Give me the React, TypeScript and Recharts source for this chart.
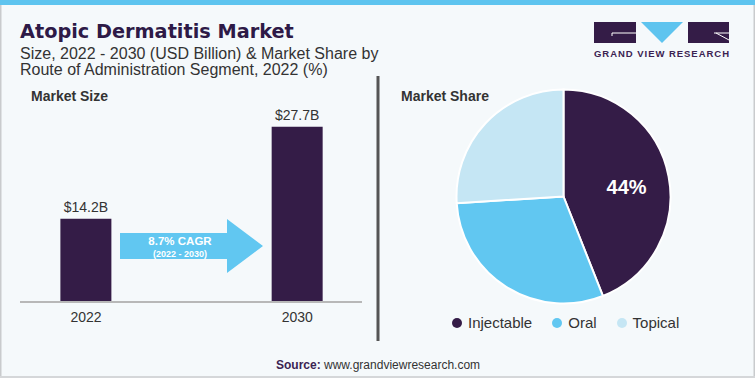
import React from 'react';
import { BarChart, Bar, XAxis, YAxis, LabelList, PieChart, Pie, Cell, Legend } from 'recharts';

const years = [2022, 2030];
const marketSize = [14.2, 27.7];
const segments = ['Injectable', 'Oral', 'Topical'];
const shares = [44, 30, 26];
const segmentColors = ['#341c47', '#61c7f1', '#c5e6f4'];

const barData = years.map((y, i) => ({ year: y, value: marketSize[i] }));
const pieData = segments.map((s, i) => ({ name: s, value: shares[i] }));

const SANS = '"Liberation Sans", Arial, sans-serif';
const PURPLE = '#341c47';

const RADIAN = Math.PI / 180;
const renderPieLabel = (props: any) => {
  const { cx, cy, midAngle, outerRadius, index, value } = props;
  if (index !== 0) return null;
  const r = outerRadius * 0.6;
  const x = cx + r * Math.cos(-midAngle * RADIAN);
  const y = cy + r * Math.sin(-midAngle * RADIAN);
  return (
    <text x={x} y={y + 3} fill="#ffffff" textAnchor="middle" dominantBaseline="central"
      style={{ fontFamily: SANS, fontSize: 20, fontWeight: 700 }}>
      {`${value}%`}
    </text>
  );
};

const renderLegend = (props: any) => {
  const { payload } = props;
  return (
    <div style={{ display: 'flex', alignItems: 'center', fontFamily: SANS, fontSize: 15, color: '#333' }}>
      {payload.map((p: any, i: number) => (
        <div key={i} style={{ display: 'flex', alignItems: 'center', marginRight: 20 }}>
          <span style={{ width: 10, height: 10, borderRadius: 5, background: p.color, display: 'inline-block', marginRight: 6 }} />
          <span>{p.value}</span>
        </div>
      ))}
    </div>
  );
};

export default function App() {
  return (
    <div style={{ position: 'absolute', left: 0, top: 0, width: 755, height: 378, background: '#f5f9fb', overflow: 'hidden' }}>
      <svg width={755} height={378} style={{ position: 'absolute', left: 0, top: 0 }}>
        <rect x={0} y={0} width={755} height={5} fill="#5ec4ef" />
        <rect x={0} y={5} width={1.5} height={373} fill="#c9cbcd" />
        <rect x={753.5} y={5} width={1.5} height={373} fill="#c9cbcd" />
        <rect x={0} y={376} width={755} height={2} fill="#d5d7d9" />
        <text x={20} y={38} fill="#2e1a47" style={{ fontFamily: '"DejaVu Sans", sans-serif', fontSize: 19.3, fontWeight: 700 }}>Atopic Dermatitis Market</text>
        <text x={20} y={59} fill="#333" style={{ fontFamily: SANS, fontSize: 16 }}>Size, 2022 - 2030 (USD Billion) &amp; Market Share by</text>
        <text x={20} y={75} fill="#333" style={{ fontFamily: SANS, fontSize: 16 }}>Route of Administration Segment, 2022 (%)</text>
        <text x={31} y={101} fill="#333" style={{ fontFamily: SANS, fontSize: 14, fontWeight: 700 }}>Market Size</text>
        <text x={401} y={101} fill="#333" style={{ fontFamily: SANS, fontSize: 14, fontWeight: 700 }}>Market Share</text>
        <rect x={376.5} y={76} width={3} height={265} fill="#555" />
        {/* logo */}
        <rect x={594} y={22} width={42} height={21} fill={PURPLE} />
        <path d="M612 36 L612 33 L636 33" stroke="#fff" strokeWidth={1} fill="none" />
        <polygon points="641,22 683,22 662,43" fill="#5ec4ef" />
        <rect x={688} y={22} width={41} height={21} fill={PURPLE} />
        <path d="M714 33 L729 33 M716 33 L729 40" stroke="#fff" strokeWidth={1} fill="none" />
        <text x={594} y={57} fill="#3b2352" textLength={135} lengthAdjust="spacing" style={{ fontFamily: SANS, fontSize: 9.5, fontWeight: 700 }}>GRAND VIEW RESEARCH</text>
        {/* CAGR arrow */}
        <polygon points="120,233 227,233 227,219 263,246 227,273 227,259 120,259" fill="#61c7f1" />
        <text x={180} y={245} fill="#fff" textAnchor="middle" style={{ fontFamily: SANS, fontSize: 11.5, fontWeight: 700 }}>8.7% CAGR</text>
        <text x={180} y={257} fill="#fff" textAnchor="middle" style={{ fontFamily: SANS, fontSize: 9, fontWeight: 700 }}>(2022 - 2030)</text>
        {/* source */}
        <text x={276} y={369} style={{ fontFamily: SANS, fontSize: 12 }}>
          <tspan fill="#3b2352" fontWeight={700}>Source:</tspan>
          <tspan fill="#333"> www.grandviewresearch.com</tspan>
        </text>
      </svg>
      <div style={{ position: 'absolute', left: 0, top: 0 }}>
        <BarChart width={380} height={378} data={barData} margin={{ top: 111, right: 18, left: 20, bottom: 46 }}>
          <XAxis dataKey="year" type="number" domain={[2019.5, 2032.45]} ticks={years} allowDataOverflow
            height={30} tickLine={false} axisLine={{ stroke: '#b8b8b8', strokeWidth: 2 }} tickMargin={4}
            tick={{ fill: '#333', fontSize: 14, fontFamily: SANS }} />
          <YAxis hide domain={[2, 30]} />
          <Bar dataKey="value" fill={PURPLE} barSize={51} isAnimationActive={false}>
            <LabelList dataKey="value" position="top" offset={7} formatter={(v: any) => `$${v}B`}
              style={{ fill: '#333', fontSize: 14, fontFamily: SANS }} />
          </Bar>
        </BarChart>
      </div>
      <div style={{ position: 'absolute', left: 378, top: 0 }}>
        <PieChart width={377} height={378} margin={{ top: 0, right: 0, bottom: 0, left: 0 }}>
          <Pie data={pieData} dataKey="value" nameKey="name" cx={185.5} cy={196.5} outerRadius={107}
            startAngle={90} endAngle={-270} stroke="#ffffff" strokeWidth={2}
            label={renderPieLabel} labelLine={false} isAnimationActive={false}>
            {pieData.map((d, i) => (
              <Cell key={d.name} fill={segmentColors[i]} />
            ))}
          </Pie>
          <Legend content={renderLegend} wrapperStyle={{ top: 314, left: 74, width: 'auto', bottom: 'auto' }} />
        </PieChart>
      </div>
    </div>
  );
}
